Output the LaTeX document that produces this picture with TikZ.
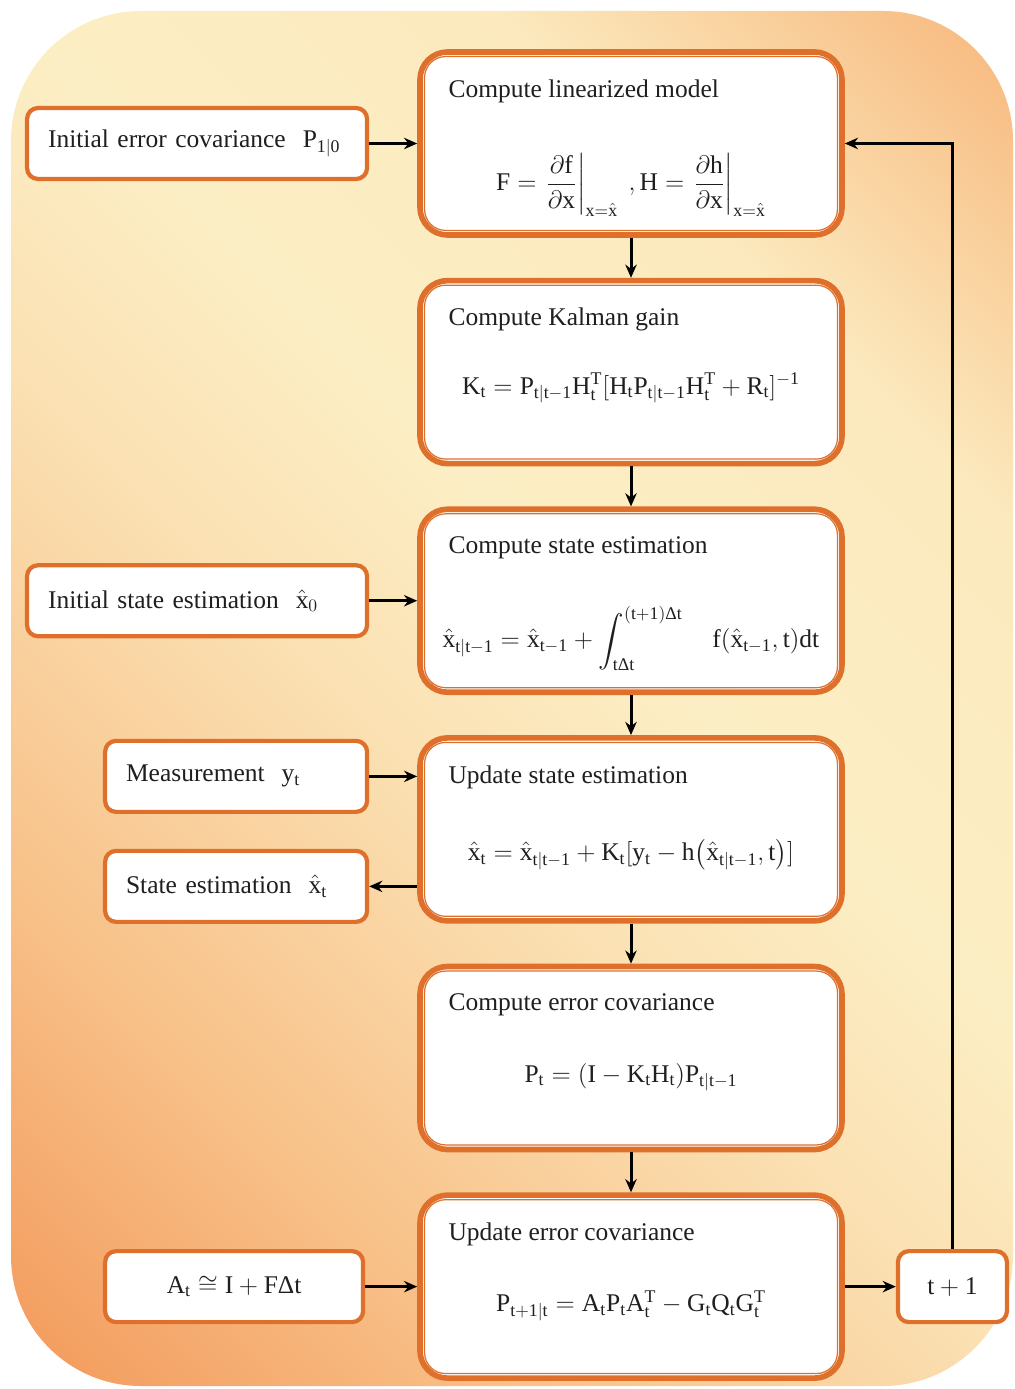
\documentclass[tikz,border=0pt]{standalone}
\usepackage{amsmath,amssymb}
\usepackage{fontspec}
\setmainfont{Liberation Serif}
\usepackage{tikz}
\usetikzlibrary{arrows.meta,positioning,calc}
\definecolor{boxorange}{RGB}{222,112,44}
\definecolor{bgdark}{RGB}{242,144,80}
\definecolor{bgmid}{RGB}{248,194,138}
\definecolor{bglight}{RGB}{252,238,196}
\pgfdeclareverticalshading{bgshade}{100bp}{color(0bp)=(bgdark); color(15bp)=(bgdark!80!bgmid); color(30bp)=(bgmid); color(45bp)=(bglight!70!bgmid); color(55bp)=(bglight); color(70bp)=(bglight!90!bgmid); color(82bp)=(bgmid); color(92bp)=(bgdark!70!bgmid); color(100bp)=(bgdark)}
\newcommand{\xh}{\hat{\mathrm{x}}}
\newcommand{\Dl}{\text{Δ}}
\tikzstyle{stage} = [rectangle, rounded corners=0.55cm, minimum width=8.44cm, minimum height=3.66cm, draw=boxorange, line width=3.2pt, fill=white]
\tikzstyle{inbox} = [rectangle, rounded corners=0.22cm, minimum height=1.42cm, inner xsep=0.42cm, align=left, draw=boxorange, line width=2.4pt, fill=white, text=black!88]
\tikzstyle{headline} = [inner sep=0pt, text=black!88]
\tikzstyle{formula} = [inner sep=0pt, text=black!88]
\tikzstyle{arrow} = [line width=1.7pt, ->, >={Stealth[length=7.5pt,width=6.5pt]}]

\begin{document}
\begin{tikzpicture}[font=\fontsize{14.5}{17}\selectfont]
\useasboundingbox (0,0) rectangle (20.28,-27.78);
% background panel
\path[shading=bgshade, shading angle=-45, rounded corners=2.6cm] (0.22,-0.22) rectangle (20.26,-27.72);

% main column
\node[stage] (lin) at (12.62,-2.87) {};
\node[stage, below=0.8cm of lin] (gain) {};
\node[stage, below=0.8cm of gain] (pred) {};
\node[stage, below=0.8cm of pred] (upd) {};
\node[stage, below=0.8cm of upd] (cov) {};
\node[stage, below=0.8cm of cov] (prop) {};
\foreach \n in {lin,gain,pred,upd,cov,prop}
  \draw[boxorange, line width=0.7pt, rounded corners=0.42cm] ([shift={(4.2pt,-4.2pt)}]\n.north west) rectangle ([shift={(-4.2pt,4.2pt)}]\n.south east);

\node[headline, below right=0.6cm and 0.62cm of lin.north west] (lintitle) {Compute linearized model};
\node[formula] (linform) at ([yshift=-0.83cm]lin.center) {$\mathrm{F} = \left.\dfrac{\partial \mathrm{f}}{\partial \mathrm{x}}\right|_{\mathrm{x}=\xh}\ ,\mathrm{H} = \left.\dfrac{\partial \mathrm{h}}{\partial \mathrm{x}}\right|_{\mathrm{x}=\xh}$};

\node[headline, below right=0.6cm and 0.62cm of gain.north west] (gaintitle) {Compute Kalman gain};
\node[formula] (gainform) at ([yshift=-0.32cm]gain.center) {$\mathrm{K_t = P_{t|t-1} H_t^T [H_t P_{t|t-1} H_t^T + R_t]^{-1}}$};

\node[headline, below right=0.6cm and 0.62cm of pred.north west] (predtitle) {Compute state estimation};
\node[formula] (predform) at ([yshift=-0.76cm]pred.center) {$\xh_{\mathrm{t|t-1}} = \xh_{\mathrm{t-1}} + \displaystyle\int_{\mathrm{t}\Dl\mathrm{t}}^{\mathrm{(t+1)}\Dl\mathrm{t}} \quad \mathrm{f}(\xh_{\mathrm{t-1}},\mathrm{t})\mathrm{dt}$};

\node[headline, below right=0.6cm and 0.62cm of upd.north west] (updtitle) {Update state estimation};
\node[formula] (updform) at ([yshift=-0.5cm]upd.center) {$\xh_\mathrm{t} = \xh_{\mathrm{t|t-1}} + \mathrm{K_t}[\mathrm{y_t} - \mathrm{h}\big(\xh_{\mathrm{t|t-1}},\mathrm{t}\big)]$};

\node[headline, below right=0.6cm and 0.62cm of cov.north west] (covtitle) {Compute error covariance};
\node[formula] (covform) at ([yshift=-0.38cm]cov.center) {$\mathrm{P_t = (I - K_t H_t) P_{t|t-1}}$};

\node[headline, below right=0.6cm and 0.62cm of prop.north west] (proptitle) {Update error covariance};
\node[formula] (propform) at ([yshift=-0.38cm]prop.center) {$\mathrm{P_{t+1|t} = A_t P_t A_t^T - G_t Q_t G_t^T}$};

% side inputs and outputs
\node[inbox, text width=5.96cm, left=0.96cm of lin] (initP) {Initial error covariance\ \ $\mathrm{P_{1|0}}$};
\node[inbox, text width=5.96cm, left=0.96cm of pred] (initx) {Initial state estimation\ \ $\xh_0$};
\node[inbox, text width=4.4cm, left=0.96cm of upd.west, yshift=1.06cm] (meas) {Measurement\ \ $\mathrm{y_t}$};
\node[inbox, text width=4.4cm, left=0.96cm of upd.west, yshift=-1.14cm] (est) {State estimation\ \ $\xh_\mathrm{t}$};
\node[inbox, text width=4.32cm, align=center, left=1.04cm of prop] (trans) {$\mathrm{A_t \cong I + F}\Dl\mathrm{t}$};
\node[inbox, minimum width=2.18cm, align=center, right=1.02cm of prop] (next) {$\mathrm{t + 1}$};

\foreach \a/\b in {lin/gain, gain/pred, pred/upd, upd/cov, cov/prop}
  \draw[arrow] (\a) -- (\b);
\draw[arrow] (initP) -- (lin);
\draw[arrow] (initx) -- (pred);
\draw[arrow] (meas) -- (meas -| upd.west);
\draw[arrow] (est -| upd.west) -- (est);
\draw[arrow] (trans) -- (prop);
\draw[arrow] (prop) -- (next);
\draw[arrow] (next.north) |- (lin.east);
\end{tikzpicture}
\end{document}
